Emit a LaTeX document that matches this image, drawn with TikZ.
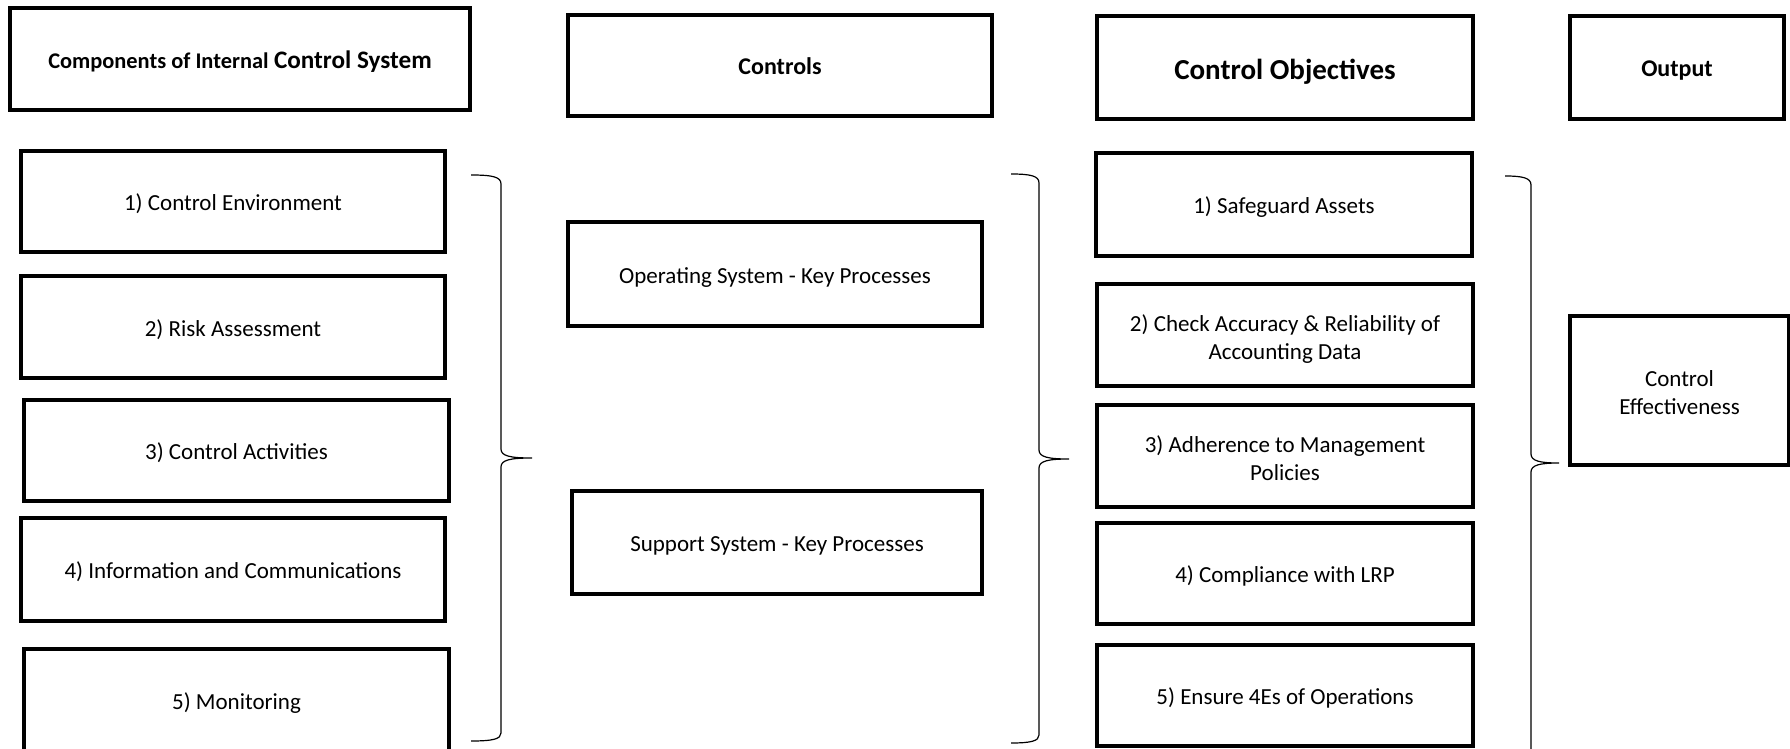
\documentclass[tikz,border=0pt]{standalone}
\usepackage{fontspec}
\setmainfont{Carlito}
\newcommand\topstrut{\rule{0pt}{12.6pt}}
\newcommand\botstrut{\rule[-2.6pt]{0pt}{2.6pt}}
\tikzset{
  box/.style={draw, line width=1.7pt, align=center, inner sep=0pt,
    font=\fontsize{11.5}{14}\selectfont},
  single/.style={box, text height=11pt, text depth=1.6pt},
  head/.style={box, font=\fontsize{12}{14}\selectfont\bfseries, text height=11pt, text depth=1.9pt},
  brace/.style={line width=0.6pt}
}
\begin{document}
\begin{tikzpicture}[x=0.5pt,y=-0.5pt]
\useasboundingbox (0,0) rectangle (1790,749);
% headings
\node[head, minimum width=230pt, minimum height=51pt, text height=11pt, text depth=1.6pt] (hcomp) at (240,59)
  {{\fontsize{11.2}{14}\selectfont Components of Internal} {\fontsize{12.6}{14}\selectfont Control System}};
\node[head, minimum width=212pt, minimum height=50.5pt] (hctrl) at (780,65.5) {Controls};
\node[head, minimum width=188pt, minimum height=51.5pt, font=\fontsize{14.5}{16}\selectfont\bfseries,
  text height=13.5pt, text depth=1.1pt] (hobj) at (1285,67.5) {Control Objectives};
\node[head, minimum width=107pt, minimum height=51.5pt] (hout) at (1677,67.5) {Output};
% components
\node[single, minimum width=212pt, minimum height=50.5pt] (env) at (233,201.5) {1) Control Environment};
\node[single, minimum width=212pt, minimum height=51pt] (risk) at (233,327) {2) Risk Assessment};
\node[single, minimum width=212.5pt, minimum height=50.5pt] (act) at (236.5,450.5) {3) Control Activities};
\node[single, minimum width=212pt, minimum height=51.5pt] (info) at (233,569.5) {4) Information and Communications};
\node[single, minimum width=212.5pt, minimum height=51pt] (mon) at (236.5,700) {5) Monitoring};
% controls
\node[single, minimum width=207pt, minimum height=52pt] (opsys) at (775,274) {Operating System - Key Processes};
\node[single, minimum width=205pt, minimum height=51.5pt] (supsys) at (777,542.5) {Support System - Key Processes};
% objectives
\node[single, minimum width=188pt, minimum height=51.5pt] (assets) at (1284,204.5) {1) Safeguard Assets};
\node[box, minimum width=188pt, minimum height=51pt] (acc) at (1285,335)
  {\topstrut 2) Check Accuracy \& Reliability of\\Accounting Data\botstrut};
\node[box, minimum width=188pt, minimum height=51pt] (pol) at (1285,456)
  {\topstrut 3) Adherence to Management\\Policies\botstrut};
\node[single, minimum width=188pt, minimum height=50.5pt] (lrp) at (1285,573.5) {4) Compliance with LRP};
\node[single, minimum width=188pt, minimum height=50.5pt] (ops) at (1285,695.5) {5) Ensure 4Es of Operations};
% output
\node[box, minimum width=109.5pt, minimum height=74.5pt] (eff) at (1679.5,390.5)
  {\topstrut Control\\Effectiveness\botstrut};
% braces
\draw[brace] (471,175) .. controls (493,175) and (501,177) .. (501,184) -- (501,449)
  .. controls (501,456) and (510,458) .. (532,458)
  .. controls (510,458) and (501,460) .. (501,467) -- (501,733)
  .. controls (501,739) and (493,741) .. (471,741);
\draw[brace] (1011,174) .. controls (1031,174) and (1039,176) .. (1039,183) -- (1039,450)
  .. controls (1039,457) and (1048,459) .. (1069,459)
  .. controls (1048,459) and (1039,461) .. (1039,468) -- (1039,735)
  .. controls (1039,741) and (1031,743) .. (1011,743);
\draw[brace] (1505,176) .. controls (1523,176) and (1531,178) .. (1531,185) -- (1531,454)
  .. controls (1531,461) and (1540,463) .. (1559,463)
  .. controls (1540,463) and (1531,465) .. (1531,472) -- (1531,760);
\end{tikzpicture}
\end{document}
